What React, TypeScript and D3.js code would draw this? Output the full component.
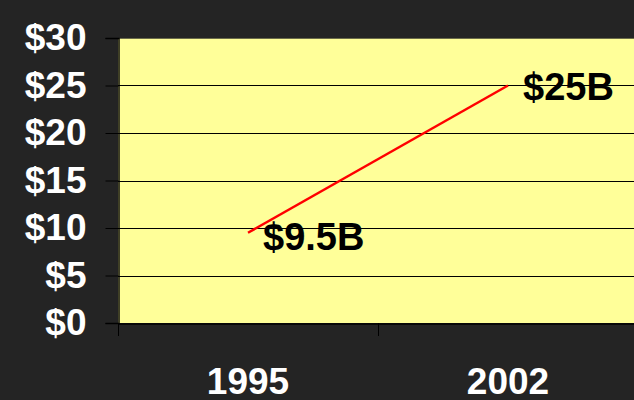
import React, { useEffect, useRef } from 'react';
import * as d3 from 'd3';

const years = ['1995', '2002'];
const revenue = [9.5, 25];
const pointLabels = ['$9.5B', '$25B'];
const yTicks = [0, 5, 10, 15, 20, 25, 30];

const App: React.FC = () => {
  const svgRef = useRef<SVGSVGElement | null>(null);

  useEffect(() => {
    document.body.style.margin = '0';
    if (!svgRef.current) return;

    const svg = d3.select(svgRef.current);
    const width = 634;
    const height = 400;
    const margin = { top: 38, right: -4, bottom: 77, left: 118 };
    const font = '"Liberation Sans", Arial, sans-serif';

    svg.selectAll('*').remove();

    svg.append('rect')
      .attr('width', width)
      .attr('height', height)
      .attr('fill', '#242424');

    const x = d3.scaleBand()
      .domain(years)
      .range([margin.left, width - margin.right]);

    const y = d3.scaleLinear()
      .domain([0, 30])
      .range([height - margin.bottom, margin.top]);

    // plot area
    svg.append('rect')
      .attr('x', margin.left)
      .attr('y', margin.top)
      .attr('width', width - margin.right - margin.left)
      .attr('height', y(0) - margin.top)
      .attr('fill', '#FFFF99');

    // grid lines
    svg.append('g')
      .selectAll('line')
      .data(yTicks.filter(d => d > 0))
      .enter()
      .append('line')
      .attr('x1', margin.left)
      .attr('x2', width)
      .attr('y1', d => Math.round(y(d)) + 0.5)
      .attr('y2', d => Math.round(y(d)) + 0.5)
      .attr('stroke', (d) => (d === 30 ? '#6b6b4a' : '#000'))
      .attr('stroke-width', 1);

    // y axis
    const yAxis = svg.append('g')
      .attr('transform', `translate(${margin.left + 0.5},0)`)
      .call(d3.axisLeft(y).tickValues(yTicks).tickSize(13).tickPadding(19).tickFormat(d => `$${d}`));
    yAxis.select('.domain').attr('stroke', '#000').attr('stroke-width', 1.5);
    yAxis.selectAll('.tick line').attr('stroke', '#000');
    yAxis.selectAll('.tick text')
      .attr('fill', '#fff')
      .attr('font-family', font)
      .attr('font-weight', 'bold')
      .attr('font-size', 37);

    // x axis
    const xAxis = svg.append('g')
      .attr('transform', `translate(0,${Math.round(y(0)) + 0.5})`)
      .call(d3.axisBottom(x).tickSize(0).tickPadding(0).tickFormat(() => ''));
    xAxis.select('.domain').attr('stroke', '#000').attr('stroke-width', 1.5);
    xAxis.selectAll('.tick').remove();

    svg.append('g')
      .selectAll('line')
      .data(years)
      .enter()
      .append('line')
      .attr('x1', d => Math.round(x(d) || 0) + 0.5)
      .attr('x2', d => Math.round(x(d) || 0) + 0.5)
      .attr('y1', y(0))
      .attr('y2', y(0) + 13)
      .attr('stroke', '#000');

    svg.append('g')
      .selectAll('text')
      .data(years)
      .enter()
      .append('text')
      .attr('x', d => (x(d) || 0) + x.bandwidth() / 2)
      .attr('y', 394)
      .attr('text-anchor', 'middle')
      .attr('fill', '#fff')
      .attr('font-family', font)
      .attr('font-weight', 'bold')
      .attr('font-size', 37)
      .text(d => d);

    // revenue line
    const line = d3.line<number>()
      .x((d, i) => (x(years[i]) || 0) + x.bandwidth() / 2)
      .y(d => y(d));

    svg.append('path')
      .datum(revenue)
      .attr('d', line)
      .attr('fill', 'none')
      .attr('stroke', '#FF0000')
      .attr('stroke-width', 2.5);

    svg.append('g')
      .selectAll('text')
      .data(revenue)
      .enter()
      .append('text')
      .attr('x', (d, i) => (x(years[i]) || 0) + x.bandwidth() / 2 + 15)
      .attr('y', (d, i) => y(d) + (i === 0 ? 17 : 14.5))
      .attr('fill', '#000')
      .attr('font-family', font)
      .attr('font-weight', 'bold')
      .attr('font-size', 38)
      .text((d, i) => pointLabels[i]);
  }, []);

  return <svg ref={svgRef} width={634} height={400} style={{ display: 'block' }}></svg>;
};

export default App;
